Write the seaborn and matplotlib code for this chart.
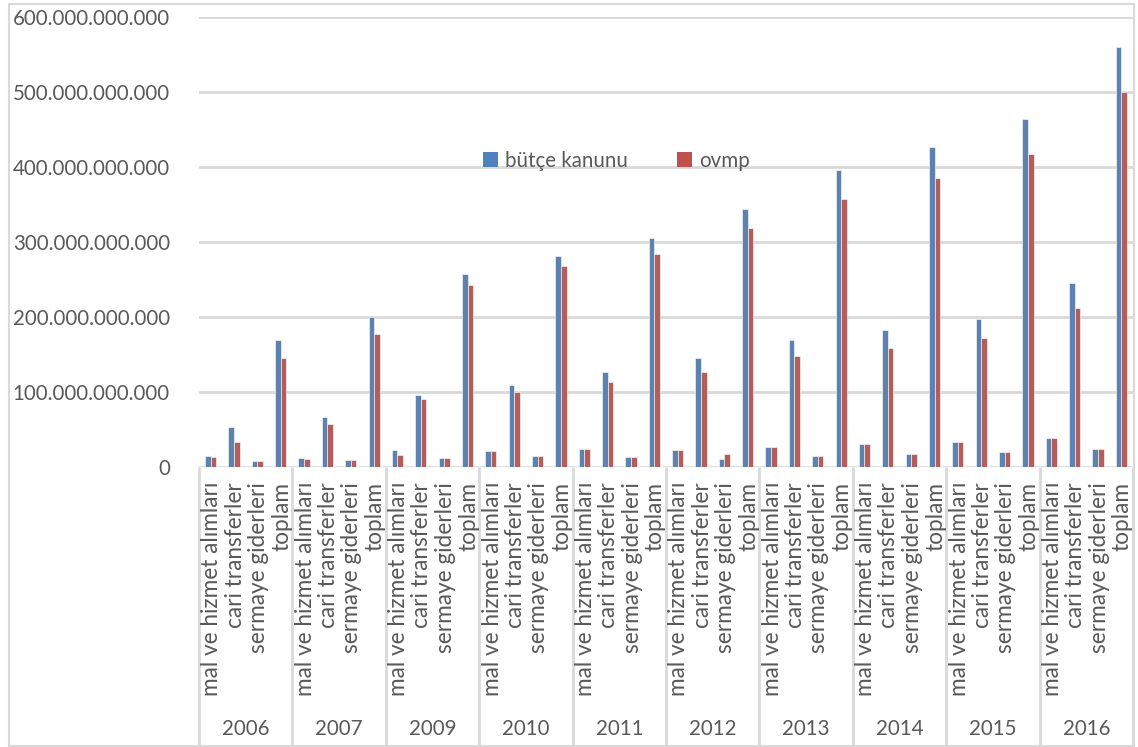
import numpy as np
import pandas as pd
import matplotlib
matplotlib.use("Agg")
import matplotlib.pyplot as plt
from matplotlib.patches import Rectangle, Patch
from matplotlib.transforms import blended_transform_factory
import seaborn as sns

# ---- data ----
years = ["2006", "2007", "2009", "2010", "2011", "2012", "2013", "2014", "2015", "2016"]
items = ["mal ve hizmet alımları", "cari transferler", "sermaye giderleri", "toplam"]
series_names = ["bütçe kanunu", "ovmp"]

# values in billions (TL), per year: [mal ve hizmet, cari transfer, sermaye, toplam]
butce_kanunu = [
    [14.7, 53.0, 8.5, 170.0],
    [12.5, 66.4, 8.9, 200.3],
    [22.3, 95.7, 12.5, 257.0],
    [21.9, 110.0, 14.7, 281.7],
    [24.5, 126.9, 12.9, 305.3],
    [22.3, 144.7, 11.2, 344.0],
    [26.3, 168.8, 15.2, 396.0],
    [30.3, 182.5, 17.0, 427.2],
    [33.0, 197.2, 19.6, 463.8],
    [38.7, 244.9, 23.6, 560.0],
]
ovmp = [
    [13.0, 33.0, 7.6, 145.5],
    [10.7, 57.4, 9.4, 177.2],
    [15.6, 90.8, 11.6, 242.6],
    [21.9, 100.2, 14.7, 267.6],
    [24.5, 112.7, 12.9, 284.4],
    [23.2, 126.9, 17.0, 318.3],
    [26.3, 147.8, 15.2, 357.4],
    [30.3, 158.9, 17.0, 385.4],
    [33.0, 171.8, 19.6, 417.5],
    [38.7, 211.9, 23.6, 500.0],
]
y_ticks = [0, 100e9, 200e9, 300e9, 400e9, 500e9, 600e9]

# ---- long-form table ----
rows = []
slots = []
for yi, yr in enumerate(years):
    for ii, it in enumerate(items):
        slot = f"{yr}|{it}"
        slots.append(slot)
        rows.append({"slot": slot, "seri": series_names[0], "deger": butce_kanunu[yi][ii] * 1e9})
        rows.append({"slot": slot, "seri": series_names[1], "deger": ovmp[yi][ii] * 1e9})
df = pd.DataFrame(rows)

# ---- style ----
sns.set_theme(style="white")
plt.rcParams["font.family"] = ["Lato", "DejaVu Sans"]
text_color = "#595959"
grid_color = "#D9D9D9"
blue = "#4F81BD"
red = "#C0504D"

W, H = 1138, 747
fig = plt.figure(figsize=(W / 100, H / 100), dpi=100)
ax_left, ax_right, ax_bottom, ax_top = 199, 1133, 467, 17
ax = fig.add_axes([ax_left / W, 1 - ax_bottom / H,
                   (ax_right - ax_left) / W, (ax_bottom - ax_top) / H])

sns.barplot(data=df, x="slot", y="deger", hue="seri", order=slots,
            hue_order=series_names, palette=[blue, red], width=0.48, gap=0,
            edgecolor="white", linewidth=0.4, ax=ax, legend=False)

ax.set_xlim(-0.5, len(slots) - 0.5)
ax.set_ylim(0, 600e9)
ax.set_yticks(y_ticks)
ax.set_yticklabels([f"{int(v):,}".replace(",", ".") for v in y_ticks],
                   color=text_color, fontsize=14.8)
ax.tick_params(axis="y", length=0, pad=21)
ax.set_xticks([])
ax.set_xlabel("")
ax.set_ylabel("")
for s in ax.spines.values():
    s.set_visible(False)
ax.yaxis.grid(True, color=grid_color, linewidth=2)
ax.set_axisbelow(True)

# ---- two-level category axis ----
trans = blended_transform_factory(ax.transData, ax.transAxes)
ax_h = ax_bottom - ax_top
frame_bottom = -(745 - ax_bottom) / ax_h
label_top = -(482 - ax_bottom) / ax_h
year_y = -(729 - ax_bottom) / ax_h

for k, slot in enumerate(slots):
    it = slot.split("|")[1]
    ax.text(k + 0.05, label_top, it, transform=trans, rotation=90, ha="center",
            va="top", fontsize=16.3, color=text_color, clip_on=False)

n_items = len(items)
for g, yr in enumerate(years):
    x0 = g * n_items - 0.5
    ax.plot([x0, x0], [0, frame_bottom], transform=trans, color=grid_color,
            linewidth=2, clip_on=False, solid_capstyle="butt")
    ax.text(x0 + n_items / 2, year_y, yr, transform=trans, ha="center",
            va="center", fontsize=14.8, color=text_color, clip_on=False)
x_end = len(slots) - 0.5
ax.plot([x_end, x_end], [0, frame_bottom], transform=trans, color=grid_color,
        linewidth=2, clip_on=False, solid_capstyle="butt")

# ---- legend ----
handles = [Patch(facecolor=blue, edgecolor="none"), Patch(facecolor=red, edgecolor="none")]
ax.legend(handles, series_names, loc="center", bbox_to_anchor=(0.447, 0.681),
          ncol=2, frameon=False, fontsize=14.8, handlelength=0.7,
          handleheight=0.7, handletextpad=0.35, columnspacing=2.4,
          labelcolor=text_color)

# ---- outer chart border ----
fig.patches.append(Rectangle((8.5 / W, 1 - 745.5 / H), (1133.5 - 8.5) / W, (745.5 - 3.5) / H,
                             transform=fig.transFigure, fill=False,
                             edgecolor=grid_color, linewidth=1.5))

fig.savefig("out.png", dpi=100, facecolor="white")
